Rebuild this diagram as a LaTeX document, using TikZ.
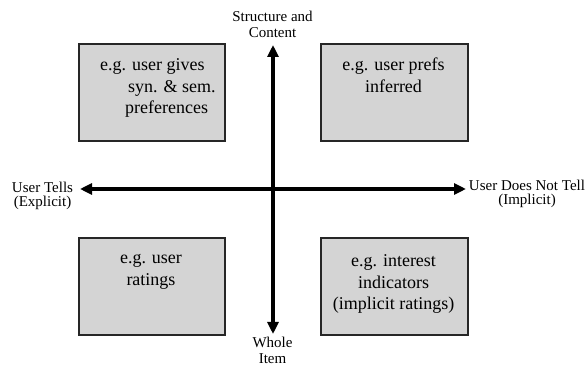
\documentclass[tikz,border=0pt]{standalone}
\usepackage{fontspec}
\setmainfont{Liberation Serif}
\usetikzlibrary{arrows.meta}
\tikzset{
  quad/.style={draw=black!85, line width=1.6pt, fill=black!17},
  boxtext/.style={font=\fontsize{18}{21.5}\selectfont, inner sep=0pt, anchor=base, align=center},
  axlabel/.style={font=\fontsize{15}{16}\selectfont, inner sep=0pt, anchor=base, align=center},
  sidelabel/.style={font=\fontsize{15}{14}\selectfont, inner sep=0pt, anchor=base, align=center},
  axis/.style={line width=4pt, -{Triangle[length=12pt,width=11pt]}, shorten >=0pt}
}
\begin{document}
\begin{tikzpicture}[x=1pt,y=-1pt]
\useasboundingbox (0,0) rectangle (587,387);
% quadrant boxes
\node[quad, minimum width=146pt, minimum height=97pt, inner sep=0pt, anchor=north west] (tl) at (78,43) {};
\node[quad, minimum width=147pt, minimum height=97pt, inner sep=0pt, anchor=north west] (tr) at (320,43) {};
\node[quad, minimum width=146pt, minimum height=97pt, inner sep=0pt, anchor=north west] (bl) at (78,237) {};
\node[quad, minimum width=147pt, minimum height=97pt, inner sep=0pt, anchor=north west] (br) at (320,237) {};
% box texts (anchor = baseline of last line)
\node[boxtext, align=left, anchor=base west] (tltext) at (100,114) {e.g. user gives\\\hspace*{28pt}syn. \& sem.\\\hspace*{25pt}preferences};
\node[boxtext] (trtext) at (393.5,92.5) {e.g. user prefs\\inferred};
\node[boxtext] (bltext) at (151,285.5) {e.g. user\\ratings};
\node[boxtext] (brtext) at (393.5,310) {e.g. interest\\indicators\\(implicit ratings)};
% axis labels
\node[axlabel] (top) at (272.5,38) {Structure and\\Content};
\node[axlabel] (bottom) at (272.5,364) {Whole\\Item};
\node[sidelabel] (left) at (42.5,207) {User Tells\\(Explicit)};
\node[sidelabel] (right) at (527,205) {User Does Not Tell\\(Implicit)};
% axis endpoints
\coordinate (c) at (273,189);
\coordinate (ttip) at (273,45);
\coordinate (btip) at (273,334);
\coordinate (ltip) at (80,189);
\coordinate (rtip) at (466,189);
\draw[axis] (c) -- (ttip);
\draw[axis] (c) -- (btip);
\draw[axis] (c) -- (ltip);
\draw[axis] (c) -- (rtip);
\end{tikzpicture}
\end{document}
